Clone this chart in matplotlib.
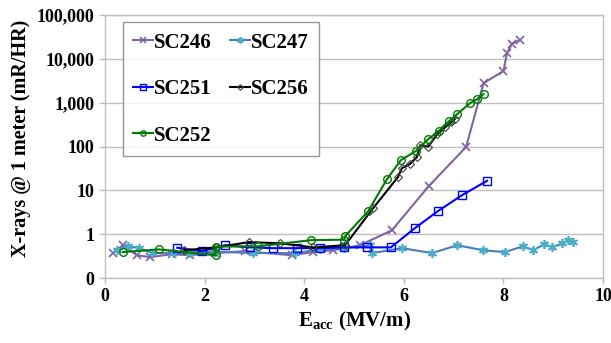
import matplotlib
matplotlib.use("Agg")
import matplotlib.pyplot as plt
from matplotlib.ticker import FixedLocator, FuncFormatter, NullLocator

plt.rcParams['font.family'] = ['Liberation Serif', 'DejaVu Serif']
plt.rcParams['font.weight'] = 'bold'
plt.rcParams['mathtext.fontset'] = 'custom'
plt.rcParams['mathtext.rm'] = 'Liberation Serif:bold'
plt.rcParams['mathtext.bf'] = 'Liberation Serif:bold'
plt.rcParams['mathtext.it'] = 'Liberation Serif:bold:italic'

sc246_x = [0.16, 0.36, 0.64, 0.9, 1.35, 1.71, 2.2, 2.81, 3.75, 4.18, 4.58, 5.12, 5.76, 6.5, 7.25, 7.6, 8.0, 8.07, 8.17, 8.33]
sc246_y = [0.37, 0.56, 0.33, 0.3, 0.35, 0.33, 0.37, 0.41, 0.33, 0.39, 0.43, 0.56, 1.23, 12.5, 98, 2800, 5300, 13500, 22000, 27000]

sc247_x = [0.24, 0.46, 0.69, 0.94, 1.37, 1.7, 2.2, 2.97, 3.82, 4.32, 4.8, 5.32, 5.36, 5.96, 6.57, 7.07, 7.59, 8.03, 8.39, 8.6, 8.82, 8.98, 9.18, 9.3, 9.4]
sc247_y = [0.43, 0.53, 0.48, 0.37, 0.37, 0.37, 0.4, 0.37, 0.37, 0.45, 0.48, 0.56, 0.37, 0.48, 0.37, 0.56, 0.43, 0.39, 0.53, 0.43, 0.59, 0.5, 0.62, 0.73, 0.66]

sc251_x = [1.45, 1.95, 2.41, 2.9, 3.37, 3.85, 4.32, 4.8, 5.26, 5.74, 6.22, 6.69, 7.17, 7.67]
sc251_y = [0.49, 0.41, 0.56, 0.5, 0.48, 0.48, 0.48, 0.5, 0.5, 0.5, 1.37, 3.4, 7.8, 16.5]

sc256_x = [1.59, 2.23, 2.89, 3.51, 4.18, 4.82, 5.38, 5.88, 5.96, 6.12, 6.26, 6.33, 6.49, 6.67, 6.83, 6.95, 7.02]
sc256_y = [0.43, 0.5, 0.66, 0.62, 0.5, 0.56, 3.9, 20, 32, 40, 57, 107, 100, 190, 275, 360, 420]

sc252_x = [0.36, 1.08, 2.22, 2.22, 3.07, 4.14, 4.8, 4.82, 5.28, 5.66, 5.94, 6.24, 6.49, 6.7, 6.91, 7.07, 7.33, 7.47, 7.6]
sc252_y = [0.39, 0.45, 0.33, 0.52, 0.53, 0.73, 0.75, 0.9, 3.3, 18, 49, 79, 148, 224, 380, 550, 980, 1200, 1580]

y_ticks = [0.1, 1, 10, 100, 1000, 10000, 100000]
x_ticks = [0, 2, 4, 6, 8, 10]

fig = plt.figure(figsize=(6.11, 3.43), dpi=100)
ax = fig.add_axes([0.172, 0.1895, 0.815, 0.7665])

ms = 5.5
h246, = ax.plot(sc246_x, sc246_y, color='#8064A2', lw=1.5, marker='x', ms=ms, mew=1.2, label='SC246', zorder=3)
h247, = ax.plot(sc247_x, sc247_y, color='#4A7EBB', lw=1.5, marker=(6, 2, 0), ms=ms+1, mew=1.2, mec='#4BACC6', label='SC247', zorder=3)
h251, = ax.plot(sc251_x, sc251_y, color='#0000FF', lw=1.5, marker='s', ms=ms, mfc='none', mew=1.0, label='SC251', zorder=4)
h256, = ax.plot(sc256_x, sc256_y, color='black', lw=1.5, marker='D', ms=4, mfc='none', mew=0.8, mec='#404040', label='SC256', zorder=5)
h252, = ax.plot(sc252_x, sc252_y, color='#007A00', lw=1.5, marker='o', ms=ms, mfc='none', mew=1.0, label='SC252', zorder=6)

ax.set_yscale('log')
ax.set_ylim(0.1, 100000)
ax.set_xlim(0, 10)
ax.yaxis.set_major_locator(FixedLocator(y_ticks))
ax.yaxis.set_minor_locator(NullLocator())
ax.yaxis.set_major_formatter(FuncFormatter(lambda v, p: '0' if v < 0.5 else f'{int(round(v)):,}'))
ax.set_xticks(x_ticks)
ax.xaxis.set_major_formatter(FuncFormatter(lambda v, p: f'{int(v)}'))

ax.grid(axis='y', color='#BFBFBF', lw=1.0)
ax.set_axisbelow(True)
for s in ax.spines.values():
    s.set_color('#BFBFBF')
    s.set_linewidth(1.0)
ax.tick_params(axis='both', colors='#BFBFBF', labelcolor='black', labelsize=13, length=4, width=1)
for lab in ax.get_xticklabels() + ax.get_yticklabels():
    lab.set_fontweight('bold')

ax.set_xlabel(r'E$_{\mathrm{acc}}$ (MV/m)', fontsize=15, fontweight='bold', labelpad=3)
ax.set_ylabel('X-rays @ 1 meter (mR/HR)', fontsize=14.5, fontweight='bold')
ax.yaxis.set_label_coords(-0.149, 0.53)

handles = [h246, h251, h252, h247, h256]
leg = ax.legend(handles=handles, labels=[h.get_label() for h in handles],
                loc='upper left', bbox_to_anchor=(0.036, 0.973), borderaxespad=0, ncol=2,
                prop={'weight': 'bold', 'size': 15}, frameon=True, fancybox=False,
                handlelength=0.95, handletextpad=0.05, columnspacing=0.85, labelspacing=1.27,
                borderpad=0.5, markerscale=0.7)
leg.get_frame().set_edgecolor('#808080')
leg.get_frame().set_linewidth(1.0)
for line in leg.get_lines():
    line.set_linewidth(1.5)

fig.savefig('out.png', dpi=100)
